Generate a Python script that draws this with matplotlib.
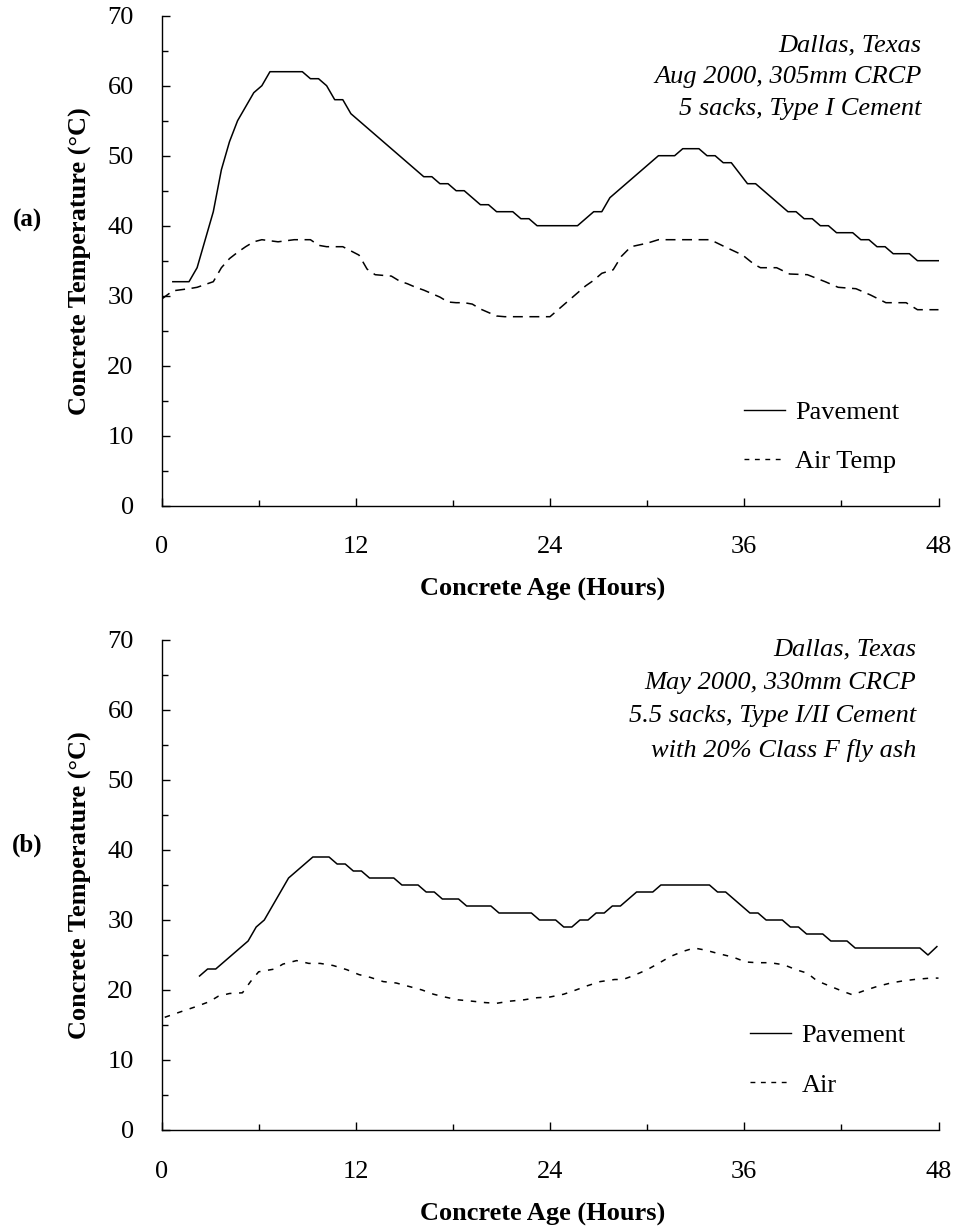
"""Concrete vs air temperature over the first 48 h, two CRCP pours in Dallas."""

import matplotlib
matplotlib.use("Agg")
import matplotlib.pyplot as plt
from matplotlib.lines import Line2D
from matplotlib.ticker import MultipleLocator

plt.rcParams["font.family"] = ["Liberation Serif", "DejaVu Serif"]

# ---- (a) Aug 2000, 305mm CRCP ------------------------------------------
pave_a_hr = [0.7, 1.7, 2.2, 2.7, 3.2, 3.7, 4.2, 4.7, 5.2, 5.7, 6.2, 6.7, 8.7,
             9.2, 9.7, 10.2, 10.7, 11.2, 11.7, 12.2, 12.7, 13.2, 13.7, 14.2,
             14.7, 15.2, 15.7, 16.2, 16.7, 17.2, 17.7, 18.2, 18.7, 19.2, 19.7,
             20.2, 20.7, 21.7, 22.2, 22.7, 23.2, 25.7, 26.2, 26.7, 27.2, 27.7,
             28.2, 28.7, 29.2, 29.7, 30.2, 30.7, 31.7, 32.2, 33.2, 33.7, 34.2,
             34.7, 35.2, 35.7, 36.2, 36.7, 37.2, 37.7, 38.2, 38.7, 39.2, 39.7,
             40.2, 40.7, 41.2, 41.7, 42.7, 43.2, 43.7, 44.2, 44.7, 45.2, 46.2,
             46.7, 48.0]
pave_a_t = [32, 32, 34, 38, 42, 48, 52, 55, 57, 59, 60, 62, 62,
            61, 61, 60, 58, 58, 56, 55, 54, 53, 52, 51,
            50, 49, 48, 47, 47, 46, 46, 45, 45, 44, 43,
            43, 42, 42, 41, 41, 40, 40, 41, 42, 42, 44,
            45, 46, 47, 48, 49, 50, 50, 51, 51, 50, 50,
            49, 49, 47.5, 46, 46, 45, 44, 43, 42, 42, 41,
            41, 40, 40, 39, 39, 38, 38, 37, 37, 36, 36,
            35, 35]

air_a_hr = [0.0, 0.7, 1.7, 2.2, 3.2, 3.7, 4.2, 4.7, 5.2, 5.7, 6.2, 7.2, 8.2,
            9.2, 9.7, 10.2, 11.2, 11.7, 12.2, 12.7, 13.2, 14.2, 14.7, 15.2,
            15.7, 16.2, 16.7, 17.2, 17.7, 18.2, 18.7, 19.2, 19.7, 20.2, 20.7,
            21.2, 24.0, 24.5, 25.0, 25.6, 26.2, 26.7, 27.2, 27.9, 28.4, 29.0,
            30.0, 30.7, 33.9, 34.7, 35.9, 36.6, 37.0, 38.0, 38.8, 39.9, 41.0,
            41.8, 42.9, 43.8, 44.75, 46.0, 46.7, 48.0]
air_a_t = [29.5, 30.7, 31, 31.2, 32, 34, 35.3, 36.2, 37, 37.7, 38, 37.7, 38,
           38, 37.2, 37, 37, 36.4, 35.8, 33.8, 33, 32.8, 32.1, 31.7,
           31.2, 30.8, 30.3, 29.8, 29.1, 29, 29, 28.8, 28.1, 27.6, 27.1,
           27, 27, 28, 29, 30.2, 31.4, 32.2, 33.2, 33.7, 35.6, 37,
           37.5, 38, 38, 37.1, 35.8, 34.5, 34, 34, 33.1, 33, 32,
           31.2, 31, 30.1, 29, 29, 28, 28]

note_a = "Dallas, Texas\nAug 2000, 305mm CRCP\n5 sacks, Type I Cement"

# ---- (b) May 2000, 330mm CRCP ------------------------------------------
pave_b_hr = [2.35, 2.85, 3.35, 3.85, 4.35, 4.85, 5.35, 5.85, 6.35, 7.85, 8.35,
             8.85, 9.35, 10.35, 10.85, 11.35, 11.85, 12.35, 12.85, 14.35,
             14.85, 15.85, 16.35, 16.85, 17.35, 18.35, 18.85, 20.35, 20.85,
             22.85, 23.35, 24.35, 24.85, 25.35, 25.85, 26.35, 26.85, 27.35,
             27.85, 28.35, 29.35, 30.35, 30.85, 33.85, 34.35, 34.85, 35.35,
             36.35, 36.85, 37.35, 38.35, 38.85, 39.35, 39.85, 40.85, 41.35,
             42.35, 42.85, 46.85, 47.35, 47.9]
pave_b_t = [22, 23, 23, 24, 25, 26, 27, 29, 30, 36, 37,
            38, 39, 39, 38, 38, 37, 37, 36, 36,
            35, 35, 34, 34, 33, 33, 32, 32, 31,
            31, 30, 30, 29, 29, 30, 30, 31, 31,
            32, 32, 34, 34, 35, 35, 34, 34, 33,
            31, 31, 30, 30, 29, 29, 28, 28, 27,
            27, 26, 26, 25, 26.2]

air_b_hr = [0.2, 1.2, 2.1, 2.8, 3.0, 3.5, 4.2, 5.0, 5.5, 6.0, 7.0, 7.5, 8.35,
            9.1, 9.8, 10.6, 11.45, 12.2, 12.9, 13.7, 14.5, 15.3, 16.1, 16.8,
            17.5, 18.3, 19.2, 20.0, 20.7, 21.5, 22.4, 23.2, 24.0, 24.85, 25.6,
            26.3, 27.1, 28.0, 28.5, 29.1, 30.0, 30.7, 31.45, 32.2, 32.9, 33.6,
            34.4, 35.3, 36.1, 36.8, 37.6, 38.45, 39.2, 39.9, 40.5, 41.35,
            42.1, 42.7, 43.4, 44.2, 45.05, 45.8, 46.5, 47.5, 48.0]
air_b_t = [16.1, 16.9, 17.6, 18.2, 18.4, 19.1, 19.5, 19.6, 21.2, 22.6, 23, 23.7, 24.2,
           23.8, 23.8, 23.5, 22.9, 22.2, 21.8, 21.2, 21.0, 20.5, 20.0, 19.4,
           19.0, 18.6, 18.4, 18.2, 18.1, 18.4, 18.6, 18.9, 19.0, 19.4, 20.0,
           20.6, 21.2, 21.5, 21.5, 22.0, 22.9, 23.8, 24.8, 25.5, 26.0, 25.7,
           25.2, 24.7, 24.0, 23.9, 23.9, 23.6, 22.9, 22.4, 21.3, 20.5,
           19.8, 19.3, 19.9, 20.5, 21.0, 21.3, 21.5, 21.7, 21.7]

note_b = ("Dallas, Texas\nMay 2000, 330mm CRCP\n"
          "5.5 sacks, Type I/II Cement\nwith 20% Class F fly ash")

FS = 19
W, H = 957, 1226


def add_axes_px(fig, left, top, right, bottom):
    return fig.add_axes([left / W, 1 - bottom / H, (right - left) / W, (bottom - top) / H])


def draw_panel(ax, pave_hr, pave_t, air_hr, air_t, air_label, air_dash,
               note, note_x, note_y, note_ls, leg_x, leg_y):
    ax.plot(pave_hr, pave_t, color="black", lw=1.1)
    ax.plot(air_hr, air_t, color="black", lw=1.1, linestyle=(0, air_dash))

    ax.set_xlim(0, 48)
    ax.set_ylim(0, 70)
    ax.xaxis.set_major_locator(MultipleLocator(12))
    ax.xaxis.set_minor_locator(MultipleLocator(6))
    ax.yaxis.set_major_locator(MultipleLocator(10))
    ax.yaxis.set_minor_locator(MultipleLocator(5))
    ax.tick_params(which="both", direction="in", width=1.0, labelsize=FS,
                   top=False, right=False)
    ax.tick_params(which="major", length=6)
    ax.tick_params(which="minor", length=4.3)
    ax.tick_params(axis="x", which="major", pad=22)
    ax.tick_params(axis="y", which="major", pad=20)
    for side in ("top", "right"):
        ax.spines[side].set_visible(False)
    for side in ("left", "bottom"):
        ax.spines[side].set_linewidth(1.0)

    ax.set_xlabel("Concrete Age (Hours)", fontsize=FS, fontweight="bold")
    ax.xaxis.set_label_coords(0.49, -84 / 490)
    ax.xaxis.label.set_verticalalignment("center")
    ax.set_ylabel("Concrete Temperature (°C)", fontsize=FS, fontweight="bold")
    ax.yaxis.set_label_coords(-81.5 / 777, 0.5)
    ax.yaxis.label.set_verticalalignment("center")

    ax.text(note_x, note_y, note, transform=ax.transAxes, ha="right", va="center",
            multialignment="right", style="italic", fontsize=FS, linespacing=note_ls)

    handles = [Line2D([], [], color="black", lw=1.0),
               Line2D([], [], color="black", lw=1.0, linestyle=(0, (3.5, 4)))]
    ax.legend(handles, ["Pavement", air_label], loc="center left",
              bbox_to_anchor=(leg_x, leg_y), frameon=False, fontsize=FS,
              handlelength=1.55, handletextpad=0.4, labelspacing=0.98,
              borderpad=0, borderaxespad=0)


fig = plt.figure(figsize=(W / 100, H / 100), dpi=100)
ax_a = add_axes_px(fig, 161.5, 15.7, 938.5, 505.7)
ax_b = add_axes_px(fig, 161.5, 640, 938.5, 1130)

draw_panel(ax_a, pave_a_hr, pave_a_t, air_a_hr, air_a_t, "Air Temp", (6.5, 4.3),
           note_a, 0.978, 0.875, 1.58, 0.7497, 0.1402)
draw_panel(ax_b, pave_b_hr, pave_b_t, air_b_hr, air_b_t, "Air", (3.6, 5.0),
           note_b, 0.971, 0.877, 1.65, 0.7574, 0.1422)

fig.text(27 / W, 1 - 220 / H, "(a)", fontsize=18, fontweight="bold",
         ha="center", va="center")
fig.text(27 / W, 1 - 845 / H, "(b)", fontsize=18, fontweight="bold",
         ha="center", va="center")

fig.savefig("out.png", dpi=100)
